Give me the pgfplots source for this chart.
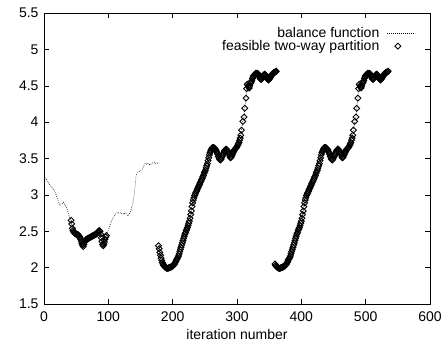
\documentclass[border=0pt]{standalone}
\usepackage{pgfplots}
\pgfplotsset{compat=1.18}
\usepackage{pgfplotstable}
\usepackage{fontspec}
\setmainfont{Liberation Sans}

\tikzset{
  bal/.style={black, dash pattern=on 0.7pt off 1.3pt, line width=0.6pt},
  feas/.style={black, mark=square, mark size=2.1pt,
    mark options={rotate=45, line width=0.9pt, fill=none, solid}},
}

% first run: balance function, feasible partitions only between 42 and 97
\pgfplotstableread{
x y
0 3.26
2 3.23
4 3.21
6 3.18
8 3.15
10 3.13
12 3.10
14 3.08
16 3.06
18 3.02
20 2.97
22 2.92
24 2.87
26 2.86
28 2.88
30 2.90
32 2.87
34 2.84
36 2.80
38 2.74
40 2.69
42 2.65
43 2.60
44 2.54
45 2.51
46 2.49
47 2.48
48 2.47
49 2.47
50 2.46
51 2.45
52 2.46
53 2.45
54 2.44
55 2.43
56 2.41
57 2.39
58 2.36
59 2.33
60 2.31
61 2.29
62 2.32
63 2.35
64 2.37
65 2.38
66 2.39
67 2.39
68 2.40
69 2.40
70 2.41
71 2.41
72 2.42
73 2.42
74 2.43
75 2.43
76 2.44
77 2.44
78 2.45
79 2.45
80 2.46
81 2.46
82 2.47
83 2.48
84 2.49
85 2.50
86 2.51
87 2.50
88 2.46
89 2.41
90 2.36
91 2.32
92 2.30
93 2.32
94 2.35
95 2.39
96 2.42
97 2.44
100 2.52
102 2.57
104 2.62
106 2.66
108 2.70
110 2.73
112 2.74
114 2.76
116 2.75
118 2.76
120 2.74
122 2.75
124 2.73
126 2.75
128 2.74
130 2.71
132 2.73
134 2.76
136 2.82
138 2.88
140 3.00
142 3.15
143 3.27
145 3.30
147 3.31
149 3.33
151 3.34
153 3.36
155 3.40
157 3.43
159 3.42
161 3.44
163 3.42
165 3.41
167 3.43
169 3.44
171 3.45
173 3.43
175 3.43
177 3.44
179 3.44
}\runA

% second run
\pgfplotstableread{
x y
178 2.30
179 2.26
180 2.21
181 2.17
182 2.13
183 2.10
184 2.07
185 2.05
186 2.03
187 2.02
188 2.01
189 2.00
190 2.00
191 1.99
192 1.99
193 1.99
194 2.00
195 2.00
196 2.00
197 2.01
198 2.01
199 2.02
200 2.02
201 2.03
202 2.04
203 2.05
204 2.07
205 2.09
206 2.11
207 2.12
208 2.14
209 2.16
210 2.19
211 2.22
212 2.25
213 2.28
214 2.31
215 2.34
216 2.37
217 2.40
218 2.43
219 2.46
220 2.48
221 2.51
222 2.53
223 2.55
224 2.58
225 2.61
226 2.64
227 2.68
228 2.73
229 2.78
230 2.84
231 2.89
232 2.93
233 2.96
234 2.99
235 3.01
236 3.03
237 3.05
238 3.07
239 3.09
240 3.11
241 3.13
242 3.15
243 3.17
244 3.19
245 3.21
246 3.23
247 3.25
248 3.27
249 3.30
250 3.32
251 3.34
252 3.37
253 3.40
254 3.43
255 3.47
256 3.51
257 3.55
258 3.58
259 3.60
260 3.62
261 3.64
262 3.65
263 3.65
264 3.65
265 3.64
266 3.63
267 3.62
268 3.60
269 3.58
270 3.56
271 3.53
272 3.51
273 3.49
274 3.48
275 3.49
276 3.51
277 3.53
278 3.55
279 3.57
280 3.59
281 3.61
282 3.62
283 3.63
284 3.62
285 3.61
286 3.59
287 3.57
288 3.55
289 3.52
290 3.51
291 3.52
292 3.54
293 3.56
294 3.58
295 3.60
296 3.62
297 3.63
298 3.64
299 3.65
300 3.66
301 3.68
302 3.70
303 3.72
304 3.75
305 3.78
306 3.82
307 3.89
309 4.01
311 4.07
312 4.19
314 4.33
315 4.46
316 4.52
317 4.50
318 4.48
319 4.47
320 4.50
321 4.53
322 4.55
323 4.57
324 4.60
325 4.62
326 4.64
327 4.65
328 4.66
329 4.67
330 4.67
331 4.67
332 4.67
333 4.66
334 4.64
335 4.62
336 4.60
337 4.59
338 4.59
339 4.61
340 4.63
341 4.64
342 4.65
343 4.66
344 4.65
345 4.63
346 4.61
347 4.60
348 4.59
349 4.58
350 4.59
351 4.60
352 4.62
353 4.63
354 4.65
355 4.66
356 4.67
357 4.68
358 4.68
359 4.69
360 4.69
361 4.70
}\runB

% third run
\pgfplotstableread{
x y
359 2.05
360 2.03
361 2.02
362 2.01
363 2.00
364 2.00
365 1.99
366 1.99
367 1.99
368 2.00
369 2.00
370 2.00
371 2.01
372 2.01
373 2.02
374 2.02
375 2.03
376 2.04
377 2.05
378 2.07
379 2.09
380 2.11
381 2.12
382 2.14
383 2.16
384 2.19
385 2.22
386 2.25
387 2.28
388 2.31
389 2.34
390 2.37
391 2.40
392 2.43
393 2.46
394 2.48
395 2.51
396 2.53
397 2.55
398 2.58
399 2.61
400 2.64
401 2.68
402 2.73
403 2.78
404 2.84
405 2.89
406 2.93
407 2.96
408 2.99
409 3.01
410 3.03
411 3.05
412 3.07
413 3.09
414 3.11
415 3.13
416 3.15
417 3.17
418 3.19
419 3.21
420 3.23
421 3.25
422 3.27
423 3.30
424 3.32
425 3.34
426 3.37
427 3.40
428 3.43
429 3.47
430 3.51
431 3.55
432 3.58
433 3.60
434 3.62
435 3.64
436 3.65
437 3.65
438 3.65
439 3.64
440 3.63
441 3.62
442 3.60
443 3.58
444 3.56
445 3.53
446 3.51
447 3.49
448 3.48
449 3.49
450 3.51
451 3.53
452 3.55
453 3.57
454 3.59
455 3.61
456 3.62
457 3.63
458 3.62
459 3.61
460 3.59
461 3.57
462 3.55
463 3.52
464 3.51
465 3.52
466 3.54
467 3.56
468 3.58
469 3.60
470 3.62
471 3.63
472 3.64
473 3.65
474 3.66
475 3.68
476 3.70
477 3.72
478 3.75
479 3.78
480 3.82
481 3.89
483 4.01
485 4.07
486 4.19
488 4.33
489 4.46
490 4.52
491 4.50
492 4.48
493 4.47
494 4.50
495 4.53
496 4.55
497 4.57
498 4.60
499 4.62
500 4.64
501 4.65
502 4.66
503 4.67
504 4.67
505 4.67
506 4.67
507 4.66
508 4.64
509 4.62
510 4.60
511 4.59
512 4.59
513 4.61
514 4.63
515 4.64
516 4.65
517 4.66
518 4.65
519 4.63
520 4.61
521 4.60
522 4.59
523 4.58
524 4.59
525 4.60
526 4.62
527 4.63
528 4.65
529 4.66
530 4.67
531 4.68
532 4.68
533 4.69
534 4.69
535 4.70
}\runC

\begin{document}
\begin{tikzpicture}
\useasboundingbox (0,0) rectangle (444pt,343pt);
\begin{axis}[
  at={(44pt,39pt)}, anchor=south west,
  scale only axis, width=386pt, height=291pt,
  xmin=0, xmax=600, ymin=1.5, ymax=5.5,
  xtick={0,100,...,600},
  ytick={1.5,2,2.5,3,3.5,4,4.5,5,5.5},
  tick align=inside, major tick length=5pt,
  axis line style={line width=0.6pt},
  every tick/.style={black, line width=0.5pt},
  /pgf/number format/assume math mode=true,
  tick label style={font=\fontsize{14}{16}\selectfont},
  xticklabel style={yshift=-4pt},
  yticklabel style={xshift=-2pt},
  label style={font=\fontsize{14}{16}\selectfont},
  xlabel={iteration number},
  xlabel style={at={(axis description cs:0.5,0)}, anchor=base, yshift=-35pt},
  legend plot pos=right,
  legend cell align=right,
  legend style={draw=none, fill=none, font=\fontsize{14}{16}\selectfont,
    at={(rel axis cs:0.962,0.952)}, anchor=north east,
    inner sep=0pt, row sep=0pt,
    nodes={inner sep=0.5pt}},
]
\addplot[bal, legend image code/.code={\draw[bal] (7pt,0pt) -- (35pt,0pt);}]
  table[x=x, y=y] {\runA};
\addlegendentry{balance function}
\addplot[feas, only marks, restrict x to domain=42:97,
  legend image code/.code={\path[draw=none] (0pt,0pt) -- (35pt,0pt);
    \path[feas] plot[only marks] coordinates {(18pt,0pt)};}]
  table[x=x, y=y] {\runA};
\addlegendentry{feasible two-way partition}
\addplot[bal, forget plot] table[x=x, y=y] {\runB};
\addplot[bal, forget plot] table[x=x, y=y] {\runC};
\addplot[feas, only marks, forget plot] table[x=x, y=y] {\runB};
\addplot[feas, only marks, forget plot] table[x=x, y=y] {\runC};
\end{axis}
\end{tikzpicture}
\end{document}
